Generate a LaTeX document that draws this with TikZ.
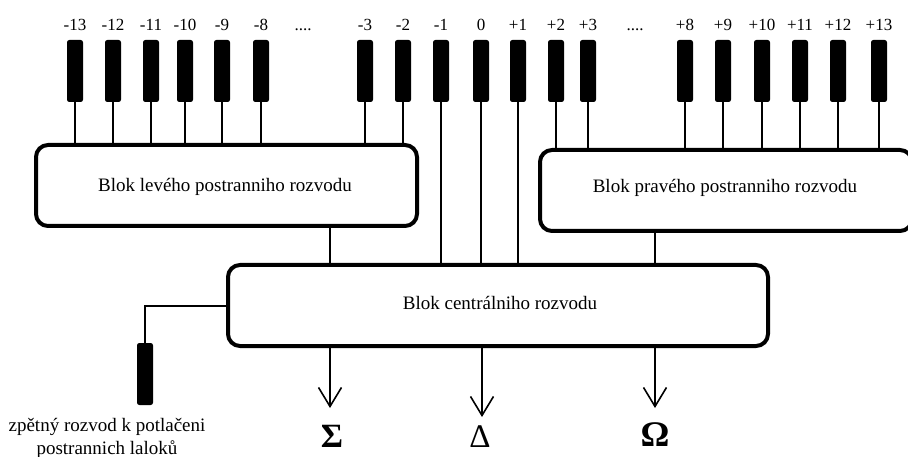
\documentclass[tikz,border=0pt]{standalone}
\usepackage{fontspec}
\setmainfont{Liberation Serif}
\usetikzlibrary{arrows.meta}
\begin{document}
\begin{tikzpicture}[x=1pt,y=-1pt,
  keybox/.style={draw=black,fill=black,rounded corners=2pt,minimum width=15pt,minimum height=61pt,inner sep=0pt,line width=1pt},
  klabel/.style={font=\fontsize{17}{19}\selectfont,inner sep=0pt,anchor=base},
  block/.style={draw=black,line width=4pt,rounded corners=12pt,inner sep=0pt},
  btext/.style={font=\fontsize{19}{21}\selectfont,inner sep=0pt},
  wire/.style={draw=black,line width=1.5pt},
  outarrow/.style={draw=black,line width=1.5pt,-{Straight Barb[length=19pt,width=23pt,line width=1.6pt]}},
  greek/.style={inner sep=0pt}
]
\useasboundingbox (0,0) rectangle (908,457);

% keys
\foreach \n/\x in {m13/75,m12/113,m11/151,m10/185,m9/222,m8/261,m3/365,m2/403,m1/441,z/481,p1/518,p2/556,p3/588,p8/685,p9/723,p10/762,p11/800,p12/838,p13/879}{
  \node[keybox] (k\n) at (\x,71) {};
}
% labels
\foreach \n/\t in {m13/-13,m12/-12,m11/-11,m10/-10,m9/-9,m8/-8,m3/-3,m2/-2,m1/-1,z/0,p1/+1,p2/+2,p3/+3,p8/+8,p9/+9,p10/+10,p11/+11,p12/+12,p13/+13}{
  \node[klabel] (l\n) at (k\n.center |- 0,31) {\t};
}
\node[klabel] (dotsL) at (303,31) {....};
\node[klabel] (dotsR) at (635,31) {....};

% blocks
\node[block,minimum width=381pt,minimum height=81pt] (lb) at (226.5,185.5) {};
\node[btext] (lbt) at (225,187) {Blok levého postranniho rozvodu};
\node[block,minimum width=372pt,minimum height=81pt] (rb) at (726,190.5) {};
\node[btext] (rbt) at (725,188) {Blok pravého postranniho rozvodu};
\node[block,minimum width=540pt,minimum height=81pt] (cb) at (498,305.5) {};
\node[btext] (cbt) at (500,303) {Blok centrálniho rozvodu};

% wires keys -> left block
\foreach \n in {m13,m12,m11,m10,m9,m8,m3,m2}{
  \draw[wire] (k\n.south) -- (k\n.south |- lb.north);
}
% wires keys -> right block
\foreach \n in {p2,p3,p8,p9,p10,p11,p12,p13}{
  \draw[wire] (k\n.south) -- (k\n.south |- rb.north);
}
% central wires
\foreach \n in {m1,z,p1}{
  \draw[wire] (k\n.south) -- (k\n.south |- cb.north);
}
\coordinate (lbo) at (330,226);
\coordinate (rbo) at (655,231);
\draw[wire] (lbo) -- (lbo |- cb.north);
\draw[wire] (rbo) -- (rbo |- cb.north);

% feedback
\node[keybox] (fb) at (145,374) {};
\coordinate (fbc) at (228,306);
\draw[wire] (fbc) -| (fb.north);
\node[font=\fontsize{19}{23}\selectfont,align=center,inner sep=0pt] (fbt) at (107,438.5) {zpětný rozvod k potlačeni\\postrannich laloků};

% outputs
\node[greek,font=\fontsize{34}{36}\selectfont\bfseries] (sig) at (332,436) {Σ};
\node[greek,font=\fontsize{33}{36}\selectfont] (del) at (480,437) {Δ};
\node[greek,font=\fontsize{36}{38}\selectfont\bfseries] (om) at (655,435) {Ω};
\coordinate (sigE) at (330,408);
\coordinate (delE) at (482,417);
\coordinate (omE) at (655,408);
\draw[outarrow] (sigE |- cb.south) -- (sigE);
\draw[outarrow] (delE |- cb.south) -- (delE);
\draw[outarrow] (omE |- cb.south) -- (omE);
\end{tikzpicture}
\end{document}
